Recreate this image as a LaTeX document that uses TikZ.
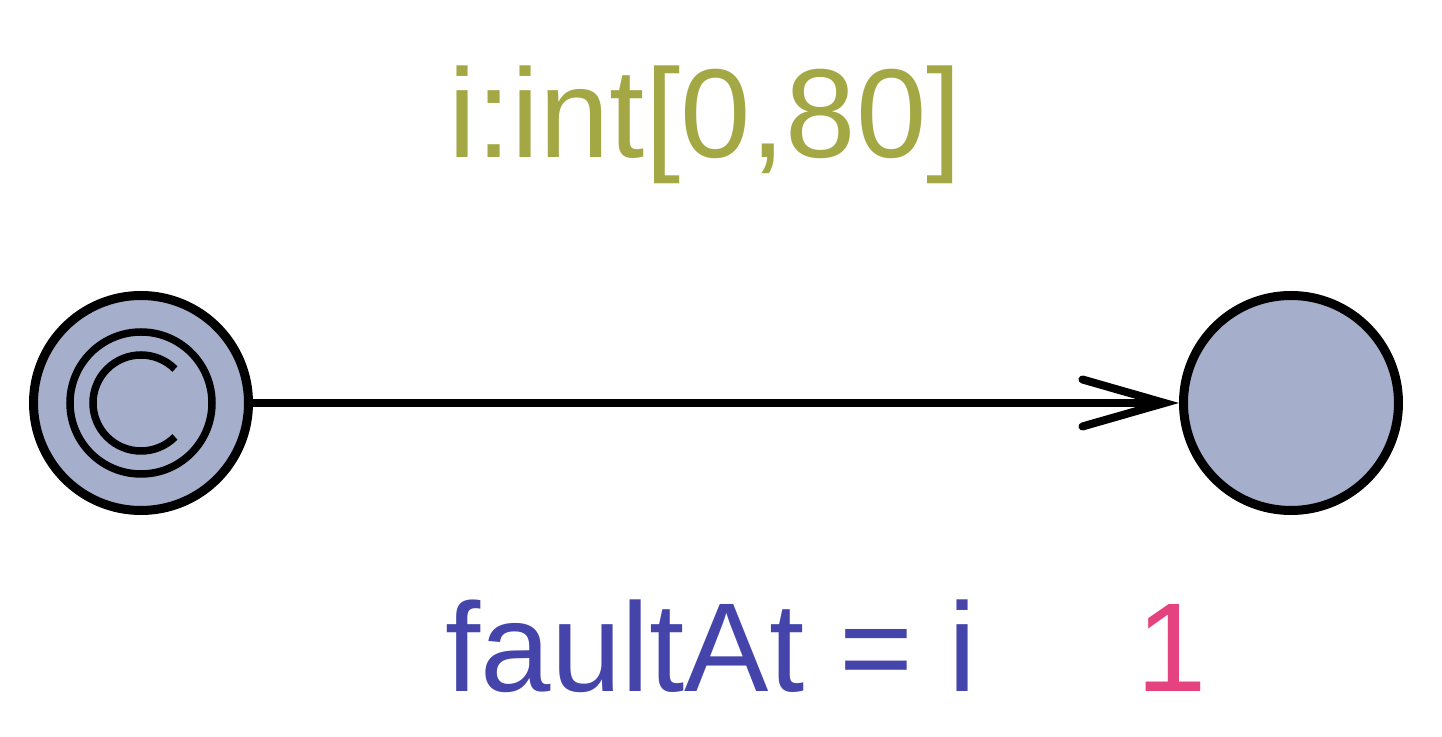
\documentclass[tikz,border=0pt]{standalone}
\usepackage{fontspec}
\setmainfont{Liberation Sans}
\usetikzlibrary{arrows.meta}
\definecolor{locFill}{HTML}{A5AECB}
\definecolor{selectCol}{HTML}{A3A845}
\definecolor{updateCol}{HTML}{4444AA}
\definecolor{weightCol}{HTML}{E54380}
\begin{document}
\begin{tikzpicture}[locStyle/.style={circle, draw, fill=locFill, line width=0.09cm, minimum size=2.15cm, inner sep=0pt}, labelStyle/.style={font=\fontsize{36}{40}\selectfont, inner sep=0pt, anchor=base}]
    \useasboundingbox (0,0) rectangle (14.42,-7.37);
    \node[locStyle] (start) at (1.41, -4.03) {};
    \node[locStyle] (end)   at (12.91, -4.03) {};
    \node[circle, draw, line width=0.075cm, minimum size=1.42cm, inner sep=0pt] (start_C) at (start.center) {};
    \draw[line width=0.075cm] (start.center) ++(45:0.48) arc[start angle=45, end angle=315, radius=0.48];

    \node[labelStyle, text=selectCol] (select) at (7.05, -1.58) {i:int[0,80]};
    \node[labelStyle, text=updateCol] (update) at (7.11, -6.92) {faultAt = i};
    \node[labelStyle, text=weightCol] (weight) at (11.72, -6.92) {1};

    \draw[line width=0.08cm, line cap=round, -{Straight Barb[length=0.82cm, width=0.47cm, line cap=round]}] (start.east) -- (end.west);
\end{tikzpicture}
\end{document}
